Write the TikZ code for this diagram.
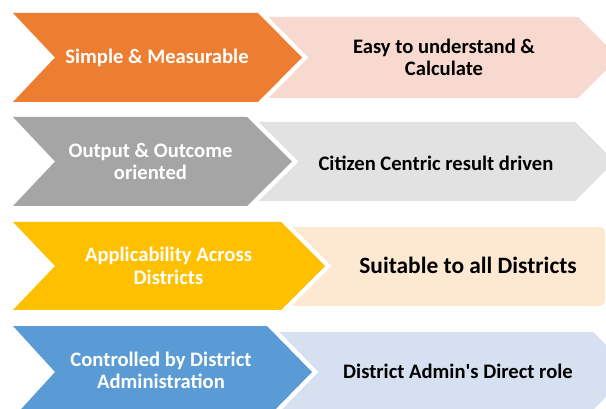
\documentclass[tikz,border=0pt]{standalone}
\usepackage{fontspec}
\setmainfont{Carlito}
\definecolor{cOrange}{HTML}{ED7D31}
\definecolor{cPink}{HTML}{F8D9CF}
\definecolor{cGray}{HTML}{A5A5A5}
\definecolor{cLGray}{HTML}{E2E2E2}
\definecolor{cYellow}{HTML}{FFC000}
\definecolor{cPeach}{HTML}{FDE8D2}
\definecolor{cBlue}{HTML}{5B9BD5}
\definecolor{cLBlue}{HTML}{D6E0F0}
\begin{document}
\begin{tikzpicture}[x=1pt,y=-1pt,
  chev/.style={preaction={draw=white,line width=9pt,line join=miter}},
  lbl/.style={text=white,font=\bfseries\fontsize{20.6}{22.5}\selectfont,align=center,inner sep=0pt},
  rbl/.style={text=black,font=\bfseries\fontsize{20.6}{22.5}\selectfont,align=center,inner sep=0pt}]
\useasboundingbox (0,0) rectangle (606,409);
\clip (0,0) rectangle (606,409);
% row 1
\fill[cPink] (265,17) -- (578,17) -- (618.5,57.5) -- (578,98) -- (265,98) -- cycle;
\fill[cOrange,chev] (13,13) -- (258,13) -- (302,57.5) -- (258,102) -- (13,102) -- (55,57.5) -- cycle;
% row 2
\fill[cLGray] (252,122) -- (575,122) -- (614.5,161.5) -- (575,201) -- (252,201) -- cycle;
\fill[cGray,chev] (13,117) -- (247,117) -- (292,161.5) -- (247,206) -- (13,206) -- (55,161.5) -- cycle;
% row 3
\fill[cPeach,rounded corners=5pt] (285,227) rectangle (605,306);
\fill[cYellow,chev] (13,222) -- (281,222) -- (325,266) -- (281,310) -- (13,310) -- (55,266) -- cycle;
% row 4
\fill[cLBlue] (272,332) -- (593,332) -- (632,371) -- (593,410) -- (272,410) -- cycle;
\fill[cBlue,chev] (13,326) -- (267,326) -- (312,372) -- (267,418) -- (13,418) -- (55,372) -- cycle;
% texts
\node[lbl] (l1) at (157,57.5) {Simple \& Measurable};
\node[rbl] (r1) at (444,57.5) {Easy to understand \&\\Calculate};
\node[lbl] (l2) at (150.5,161.5) {Output \& Outcome\\oriented};
\node[rbl] (r2) at (436,163) {Citizen Centric result driven};
\node[lbl] (l3) at (168.5,266) {Applicability Across\\Districts};
\node[rbl,font=\bfseries\fontsize{23.4}{26}\selectfont] (r3) at (468,265.5) {Suitable to all Districts};
\node[lbl] (l4) at (161,370.5) {Controlled by District\\Administration};
\node[rbl] (r4) at (458,371) {District Admin\textquotesingle s Direct role};
\end{tikzpicture}
\end{document}
